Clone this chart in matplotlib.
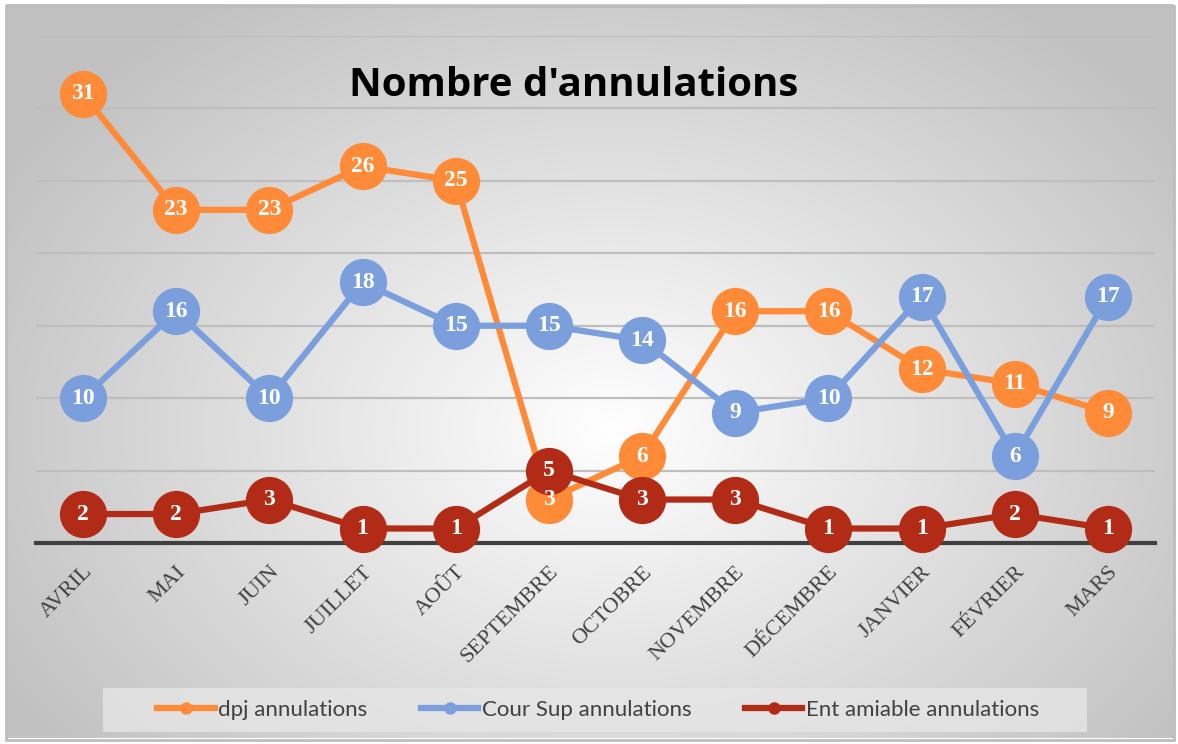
import numpy as np
import matplotlib
matplotlib.use("Agg")
import matplotlib.pyplot as plt
from matplotlib.patches import Rectangle
from matplotlib.lines import Line2D

# === Données ===
mois = ["AVRIL", "MAI", "JUIN", "JUILLET", "AOÛT", "SEPTEMBRE", "OCTOBRE",
        "NOVEMBRE", "DÉCEMBRE", "JANVIER", "FÉVRIER", "MARS"]
dpj = [31, 23, 23, 26, 25, 3, 6, 16, 16, 12, 11, 9]
cour_sup = [10, 16, 10, 18, 15, 15, 14, 9, 10, 17, 6, 17]
ent_amiable = [2, 2, 3, 1, 1, 5, 3, 3, 1, 1, 2, 1]

series = [
    ("dpj annulations", dpj, "#FF8A38"),
    ("Cour Sup annulations", cour_sup, "#7B9FDC"),
    ("Ent amiable annulations", ent_amiable, "#B22B17"),
]

W, H = 1178, 744
fig = plt.figure(figsize=(W / 100, H / 100), dpi=100)

# === Fond dégradé radial ===
bg = fig.add_axes([6 / W, 6 / H, (W - 10) / W, (H - 10) / H], zorder=0)
yy, xx = np.mgrid[0:H, 0:W]
r = np.sqrt(((xx - 610) / 700.0) ** 2 + ((yy - 430) / 520.0) ** 2)
val = np.clip(1.0 - 0.24 * r, 0.76, 1.0)
bg.imshow(np.dstack([val, val, val]), aspect="auto", extent=[0, 1, 0, 1])
bg.set_xlim(0, 1)
bg.set_ylim(0, 1)
bg.axis("off")
fig.patches.append(Rectangle((6 / W, 4 / H), (W - 10) / W, (H - 10) / H,
                             transform=fig.transFigure, fill=False,
                             edgecolor="#BDBDBD", linewidth=2, zorder=1))

# === Graphique ===
ax = fig.add_axes([36.4 / W, 1 - 543 / H, (1154.6 - 36.4) / W, (543 - 36) / H], zorder=2)
ax.patch.set_alpha(0)
x = np.arange(len(mois))
ax.set_xlim(-0.5, len(mois) - 0.5)
ax.set_ylim(0, 35)
ax.set_yticks(np.arange(5, 36, 5))
ax.yaxis.grid(True, color="#BEBEBE", linewidth=1.6)
ax.tick_params(axis="y", left=False, labelleft=False)
for s in ["top", "right", "left"]:
    ax.spines[s].set_visible(False)
ax.spines["bottom"].set_color("#404040")
ax.spines["bottom"].set_linewidth(3)
ax.spines["bottom"].set_zorder(3)

for i, (nom, vals, col) in enumerate(series):
    ax.plot(x, vals, color=col, linewidth=4.5, marker="o", markersize=34,
            markeredgewidth=0, label=nom, zorder=4 + i, clip_on=False)
    for xi, v in zip(x, vals):
        ax.text(xi, v, str(v), ha="center", va="center", color="white",
                fontsize=17, fontweight="bold", family="Liberation Serif",
                zorder=10 + i)

ax.set_xticks(x)
ax.set_xticklabels(mois, rotation=45, ha="right", va="top",
                   rotation_mode="anchor", family="Liberation Serif",
                   fontsize=16, color="#404040")
ax.tick_params(axis="x", length=0, pad=14)

fig.text(574 / W, 1 - 86 / H, "Nombre d'annulations", ha="center", va="center",
         fontsize=29, fontweight="bold", family="Open Sans", color="black",
         zorder=20)

# === Légende ===
fig.patches.append(Rectangle((103 / W, 1 - 732 / H), (1087 - 103) / W, 44 / H,
                             transform=fig.transFigure, facecolor="#E6E6E6",
                             edgecolor="none", alpha=0.8, zorder=1))
labels = [nom for nom, _, _ in series]
hs = [Line2D([0], [0], color=c, linewidth=4.5, marker="o", markersize=9,
             markeredgewidth=0) for _, _, c in series]
leg = fig.legend(hs, labels, loc="center", bbox_to_anchor=(598 / W, 1 - 710 / H),
                 ncol=3, frameon=False, handlelength=2.6,
                 handletextpad=0.15, columnspacing=2.4,
                 prop={"family": "Lato", "size": 16})
for t in leg.get_texts():
    t.set_color("#404040")

plt.savefig("out.png", dpi=100)
